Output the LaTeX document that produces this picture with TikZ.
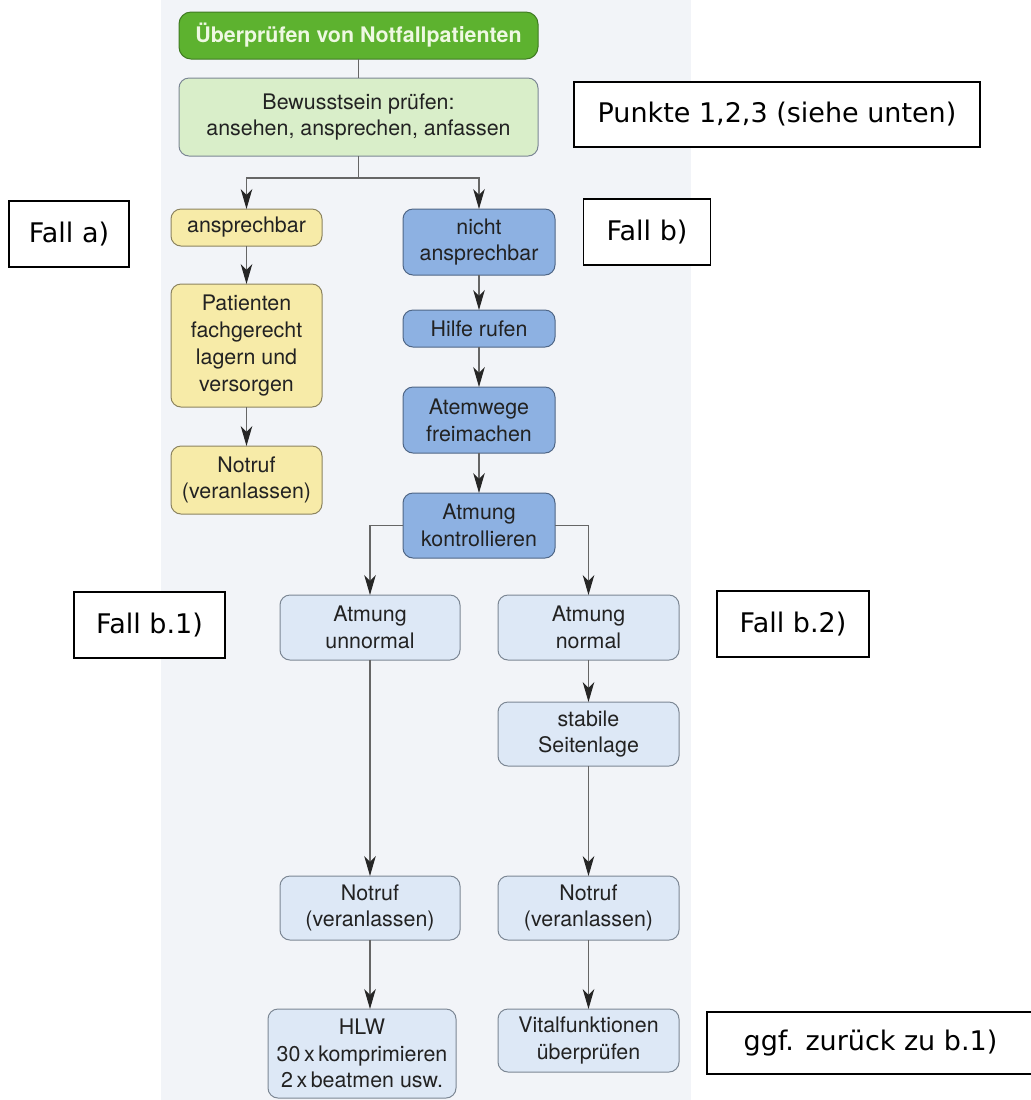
\documentclass[tikz,border=0pt]{standalone}
\usepackage{fontspec}
\setmainfont{TeX Gyre Heros}
\newfontfamily\notefont{DejaVu Sans}
\usetikzlibrary{arrows.meta}
\definecolor{pagebg}{HTML}{F2F4F8}
\definecolor{titlegreen}{HTML}{5DB22F}
\definecolor{titleline}{HTML}{3F7A22}
\definecolor{titletext}{HTML}{EEF8E2}
\definecolor{lightgreen}{HTML}{D9EEC9}
\definecolor{paleyellow}{HTML}{F7EBA8}
\definecolor{yellowline}{HTML}{8C8460}
\definecolor{midblue}{HTML}{8DB1E2}
\definecolor{blueline}{HTML}{4F6686}
\definecolor{lightblue}{HTML}{DDE8F6}
\definecolor{boxline}{HTML}{7C8794}
\definecolor{boxtext}{HTML}{222222}
\definecolor{linegray}{HTML}{666666}

\begin{document}
\begin{tikzpicture}[x=0.5pt,y=-0.5pt,
	box/.style={draw=boxline, line width=0.5pt, rounded corners=5pt, align=center,
		inner sep=0pt, outer sep=0pt, text=boxtext, font=\fontsize{10.7}{13.4}\selectfont},
	titlebox/.style={box, fill=titlegreen, draw=titleline, rounded corners=6pt, text=titletext},
	greenbox/.style={box, fill=lightgreen},
	yellowbox/.style={box, fill=paleyellow, draw=yellowline},
	bluebox/.style={box, fill=midblue, draw=blueline},
	paleblue/.style={box, fill=lightblue},
	note/.style={draw=black, line width=0.6pt, fill=white, inner sep=0pt, outer sep=0pt,
		font=\notefont\fontsize{13.5}{16}\selectfont},
	link/.style={draw=linegray, line width=0.55pt},
	arr/.style={link, -{Stealth[length=10pt,width=5.8pt,inset=3pt,color=black!85]}}]
	\useasboundingbox (0,0) rectangle (1031,1100);
	\fill[pagebg] (161,0) rectangle (691,1100);

	\node[titlebox, minimum width=179.5pt, minimum height=23.5pt] (title) at (358.5,35.5) {\bfseries Überprüfen von Notfallpatienten};
	\node[greenbox, minimum width=179.5pt, minimum height=39pt] (bew) at (358.5,117) {Bewusstsein prüfen:\\ansehen, ansprechen, anfassen};

	\node[yellowbox, minimum width=75.5pt, minimum height=18.5pt] (ja) at (246.5,227.5) {ansprechbar};
	\node[yellowbox, minimum width=75.5pt, minimum height=61.5pt] (lagern) at (246.5,345.5) {Patienten\\fachgerecht\\lagern und\\versorgen};
	\node[yellowbox, minimum width=75.5pt, minimum height=34pt] (notrufa) at (246.5,480) {Notruf\\(veranlassen)};

	\node[bluebox, minimum width=76pt, minimum height=33pt] (nein) at (479,242) {nicht\\ansprechbar};
	\node[bluebox, minimum width=76pt, minimum height=18.5pt] (hilfe) at (479,328.5) {Hilfe rufen};
	\node[bluebox, minimum width=76pt, minimum height=33pt] (atemwege) at (479,420) {Atemwege\\freimachen};
	\node[bluebox, minimum width=76pt, minimum height=32.5pt] (atmung) at (479,525.5) {Atmung\\kontrollieren};

	\node[paleblue, minimum width=90pt, minimum height=32.5pt] (unnormal) at (370,627.5) {Atmung\\unnormal};
	\node[paleblue, minimum width=90.5pt, minimum height=32.5pt] (normal) at (588.5,627.5) {Atmung\\normal};
	\node[paleblue, minimum width=90.5pt, minimum height=32pt] (seite) at (588.5,734) {stabile\\Seitenlage};
	\node[paleblue, minimum width=90pt, minimum height=32pt] (notrufl) at (370,908) {Notruf\\(veranlassen)};
	\node[paleblue, minimum width=90.5pt, minimum height=32pt] (notrufr) at (588.5,908) {Notruf\\(veranlassen)};
	\node[paleblue, minimum width=94pt, minimum height=44.5pt] (hlw) at (362,1053.5) {HLW\\30\,x\,komprimieren\\2\,x\,beatmen usw.};
	\node[paleblue, minimum width=90.5pt, minimum height=31.5pt] (vital) at (588.5,1040.5) {Vitalfunktionen\\überprüfen};

	\node[note, minimum width=203pt, minimum height=32.5pt] (punkte) at (777,114.5) {Punkte 1,2,3 (siehe unten)};
	\node[note, minimum width=60pt, minimum height=33pt] (falla) at (69,234) {Fall a)};
	\node[note, minimum width=63.5pt, minimum height=33pt] (fallb) at (647,232) {Fall b)};
	\node[note, minimum width=75.5pt, minimum height=33pt] (fallba) at (149.5,625) {Fall b.1)};
	\node[note, minimum width=76pt, minimum height=33pt] (fallbb) at (793,624) {Fall b.2)};
	\node[note, minimum width=163.5pt, minimum height=31pt] (zurueck) at (870.5,1043) {ggf. zurück zu b.1)};

	\coordinate (split) at (358.5,178);
	\draw[link] (title) -- (bew);
	\draw[arr] (bew.south) -- (split) -| (ja.north);
	\draw[arr] (split) -| (nein.north);
	\draw[arr] (ja) -- (lagern);
	\draw[arr] (lagern) -- (notrufa);
	\draw[arr] (nein) -- (hilfe);
	\draw[arr] (hilfe) -- (atemwege);
	\draw[arr] (atemwege) -- (atmung);
	\draw[arr] (atmung.west) -| (unnormal.north);
	\draw[arr] (atmung.east) -| (normal.north);
	\draw[arr] (normal) -- (seite);
	\draw[arr] (unnormal) -- (notrufl);
	\draw[arr] (seite) -- (notrufr);
	\draw[arr] (notrufl.south) -- (notrufl.south |- hlw.north);
	\draw[arr] (notrufr) -- (vital);
\end{tikzpicture}
\end{document}
